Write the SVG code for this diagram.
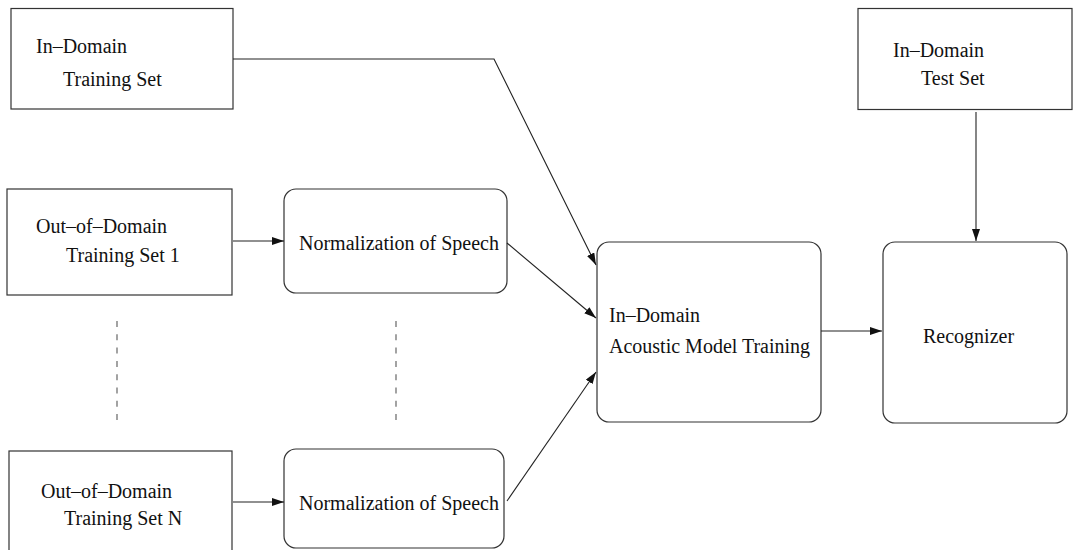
<svg xmlns="http://www.w3.org/2000/svg" width="1073" height="550" viewBox="0 0 1073 550">
<style>
.box{fill:#fff;stroke:#333;stroke-width:1.2}
.t{font-family:'Liberation Serif','Times New Roman',Times,'DejaVu Serif',serif;font-size:20px;fill:#111}
.c{fill:none;stroke:#222;stroke-width:1.1}
.d{fill:none;stroke:#666;stroke-width:1.2;stroke-dasharray:6 7.3}
</style>
<defs>
<marker id="ah" viewBox="0 0 12 8" refX="12" refY="4" markerWidth="12" markerHeight="8" markerUnits="userSpaceOnUse" orient="auto">
<path d="M0,0 L12,4 L0,8 Z" fill="#111"/>
</marker>
</defs>
<rect width="1073" height="550" fill="#fff"/>
<g id="in-domain-training">
<rect class="box" x="11" y="8.5" width="222" height="100.5"/>
<text class="t" x="36" y="53">In–Domain</text>
<text class="t" x="63" y="86">Training Set</text>
</g>
<g id="in-domain-test">
<rect class="box" x="858" y="8.5" width="214" height="101"/>
<text class="t" x="893" y="57">In–Domain</text>
<text class="t" x="921" y="85">Test Set</text>
</g>
<g id="ood-1">
<rect class="box" x="7" y="189" width="225" height="106"/>
<text class="t" x="36" y="233">Out–of–Domain</text>
<text class="t" x="66" y="262">Training Set 1</text>
</g>
<g id="norm-1">
<rect class="box" x="284" y="189" width="223" height="104" rx="12"/>
<text class="t" x="299" y="250">Normalization of Speech</text>
</g>
<g id="ood-n">
<rect class="box" x="9" y="451" width="223" height="110"/>
<text class="t" x="41" y="498">Out–of–Domain</text>
<text class="t" x="64" y="525">Training Set N</text>
</g>
<g id="norm-n">
<rect class="box" x="284" y="449" width="220" height="99" rx="12"/>
<text class="t" x="299" y="510">Normalization of Speech</text>
</g>
<g id="acoustic">
<rect class="box" x="597" y="242" width="224" height="180" rx="12"/>
<text class="t" x="609" y="322">In–Domain</text>
<text class="t" x="609" y="353">Acoustic Model Training</text>
</g>
<g id="recognizer">
<rect class="box" x="883" y="242" width="184" height="181" rx="12"/>
<text class="t" x="923" y="343">Recognizer</text>
</g>
<g id="connectors">
<polyline class="c" points="233,59 494,59 596,265" marker-end="url(#ah)"/>
<line class="c" x1="233" y1="241" x2="284" y2="241" marker-end="url(#ah)"/>
<line class="c" x1="507" y1="243" x2="596" y2="318" marker-end="url(#ah)"/>
<line class="c" x1="233" y1="502" x2="284" y2="502" marker-end="url(#ah)"/>
<line class="c" x1="507" y1="501" x2="596" y2="372" marker-end="url(#ah)"/>
<line class="c" x1="976" y1="112" x2="976" y2="241" marker-end="url(#ah)"/>
<line class="c" x1="821" y1="331" x2="882" y2="331" marker-end="url(#ah)"/>
<line class="d" x1="117" y1="321" x2="117" y2="420"/>
<line class="d" x1="396" y1="321" x2="396" y2="420"/>
</g>
</svg>
